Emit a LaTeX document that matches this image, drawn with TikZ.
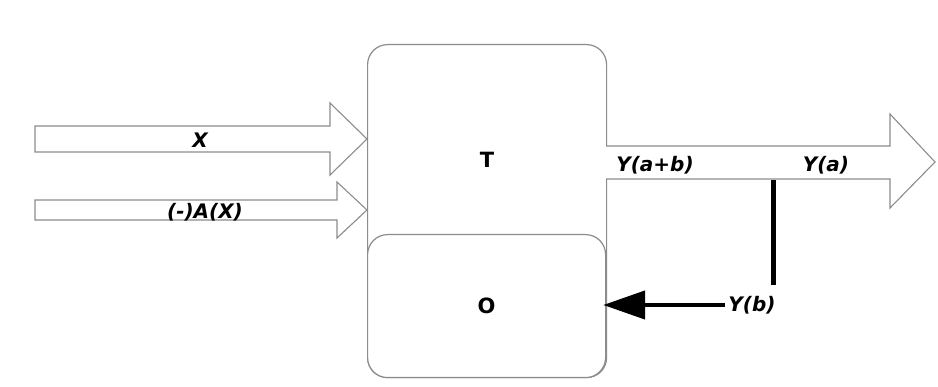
\documentclass[tikz,border=0pt]{standalone}
\usepackage{fontspec}
\setmainfont{DejaVu Sans}
\usetikzlibrary{arrows.meta}
\definecolor{edgegray}{RGB}{140,140,140}
\begin{document}
\begin{tikzpicture}[x=1pt,y=-1pt,
  lbl/.style={font=\fontsize{20}{20}\selectfont\bfseries\itshape, inner sep=0pt},
  box/.style={draw=edgegray, line width=1.2pt, rounded corners=20pt, fill=white, inner sep=0pt},
  fat/.style={draw=edgegray, line width=1.1pt, fill=white, line join=miter}]
\useasboundingbox[fill=white] (0,0) rectangle (938,387);
% T box
\node[box, minimum width=239pt, minimum height=333pt, anchor=north west] (T) at (367,44) {};
\node[lbl, font=\fontsize{21}{21}\selectfont\bfseries] (tl) at (487,160) {T};
% O box
\node[box, minimum width=238pt, minimum height=143pt, anchor=north west, font=\fontsize{21}{21}\selectfont\bfseries] (O) at (367,234) {O};
% input fat arrows
\draw[fat] (35,126) -- (330,126) -- (330,103) -- (367,139) -- (330,175) -- (330,152) -- (35,152) -- cycle;
\draw[fat] (35,200) -- (337,200) -- (337,182) -- (367,210) -- (337,238) -- (337,220) -- (35,220) -- cycle;
% output fat arrow
\draw[fat] (606,146) -- (890,146) -- (890,114) -- (935,162) -- (890,208) -- (890,179) -- (606,179);
% labels
\node[lbl] (x) at (200,140) {X};
\node[lbl] (ax) at (205,212) {(-)A(X)};
\node[lbl] (yab) at (655,165) {Y(a+b)};
\node[lbl] (ya) at (826,165) {Y(a)};
\node[lbl] (yb) at (752,305) {Y(b)};
% branch line
\coordinate (bt) at (773,180);
\coordinate (bb) at (773,285);
\draw[line width=5pt] (bt) -- (bb);
% feedback arrow
\draw[line width=4.5pt, -{Triangle[length=42pt,width=28pt]}] ([xshift=-3pt]yb.west) -- ([xshift=-3pt]yb.west -| O.east);
\end{tikzpicture}
\end{document}
